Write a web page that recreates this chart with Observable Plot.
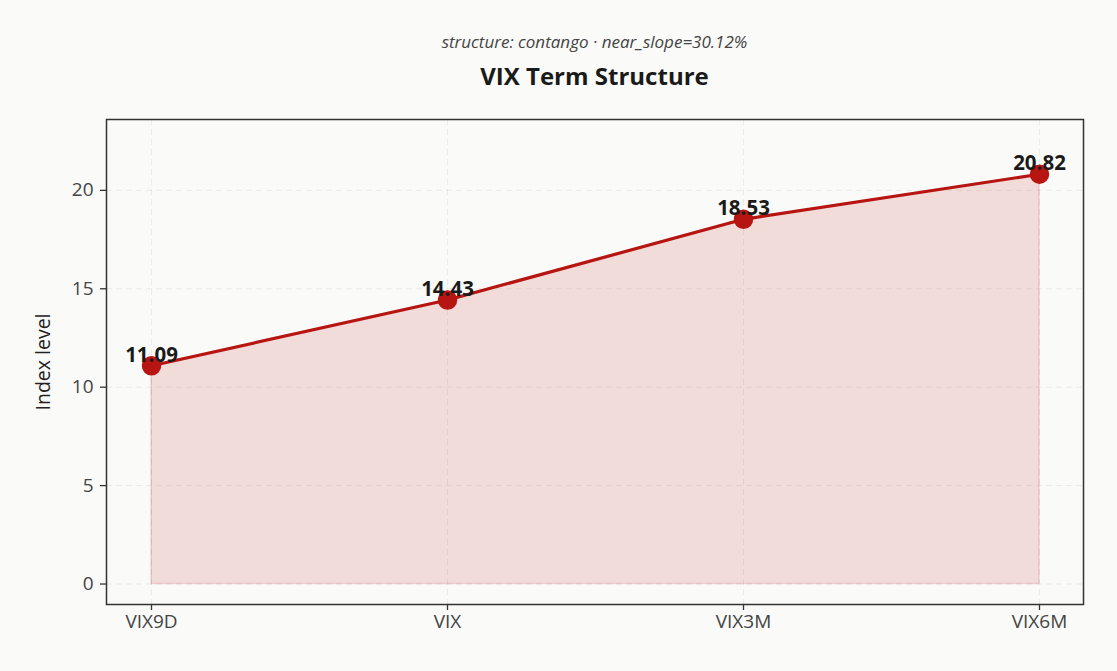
<!DOCTYPE html>
<html>
<head>
<meta charset="utf-8">
<script src="https://cdn.jsdelivr.net/npm/d3@7"></script>
<script src="https://cdn.jsdelivr.net/npm/@observablehq/plot@0.6"></script>
<style>
  html, body { margin: 0; padding: 0; background: #fafaf8; }
  body { width: 1117px; height: 671px; overflow: hidden; font-family: "Open Sans", "Noto Sans", sans-serif; }
  #sub { position: absolute; left: 0; width: 1189px; top: 32px; line-height: 20px; text-align: center; font-size: 17px; font-style: italic; color: #444; }
  #title { position: absolute; left: 0; width: 1189px; top: 62px; line-height: 28px; text-align: center; font-size: 24px; font-weight: bold; color: #1a1a1a; }
  #chart { position: absolute; left: 0; top: 100px; }
</style>
</head>
<body>
<div id="sub">structure: contango · near_slope=30.12%</div>
<div id="title">VIX Term Structure</div>
<div id="chart"></div>
<script>
const tenors = ["VIX9D", "VIX", "VIX3M", "VIX6M"];
const levels = [11.09, 14.43, 18.53, 20.82];
const yTicks = [0, 5, 10, 15, 20];

const data = tenors.map((t, i) => ({tenor: t, value: levels[i]}));
const red = "#b71512";

const plot = Plot.plot({
  width: 1117,
  height: 571,
  marginLeft: 106,
  marginRight: 34,
  marginTop: 19,
  marginBottom: 67,
  style: {background: "transparent", fontFamily: "'Open Sans', 'Noto Sans', sans-serif", fontSize: "19px", color: "#444"},
  x: {type: "point", domain: tenors, padding: 0.15, label: null},
  y: {domain: [-1.04, 23.6], label: null},
  marks: [
    Plot.gridY(yTicks, {stroke: "#dcdcdc", strokeOpacity: 0.55, strokeDasharray: "6,4", strokeWidth: 1}),
    Plot.gridX(tenors, {stroke: "#dcdcdc", strokeOpacity: 0.55, strokeDasharray: "6,4", strokeWidth: 1}),
    Plot.areaY(data, {x: "tenor", y: "value", fill: red, fillOpacity: 0.13, stroke: red, strokeOpacity: 0.15, strokeWidth: 1.5}),
    Plot.lineY(data, {x: "tenor", y: "value", stroke: red, strokeWidth: 3.2}),
    Plot.dot(data, {x: "tenor", y: "value", r: 9, fill: red, stroke: red}),
    Plot.text(data, {x: "tenor", y: "value", text: d => d.value.toFixed(2), lineAnchor: "bottom", dy: -4, fontSize: 20.5, fontWeight: "bold", fill: "#1a1a1a"}),
    Plot.axisY(yTicks, {tickSize: 6, tickPadding: 7, stroke: "#333", strokeWidth: 1.3, fill: "#444", fontSize: 19, label: null}),
    Plot.axisX(tenors, {tickSize: 6, tickPadding: 4, stroke: "#333", strokeWidth: 1.3, fill: "#444", fontSize: 19, label: null}),
    Plot.frame({stroke: "#333", strokeWidth: 1.5}),
    Plot.text(["Index level"], {frameAnchor: "left", textAnchor: "middle", dx: -63, rotate: -90, fontSize: 19.5, fill: "#222"})
  ]
});
document.getElementById("chart").appendChild(plot);
</script>
</body>
</html>
